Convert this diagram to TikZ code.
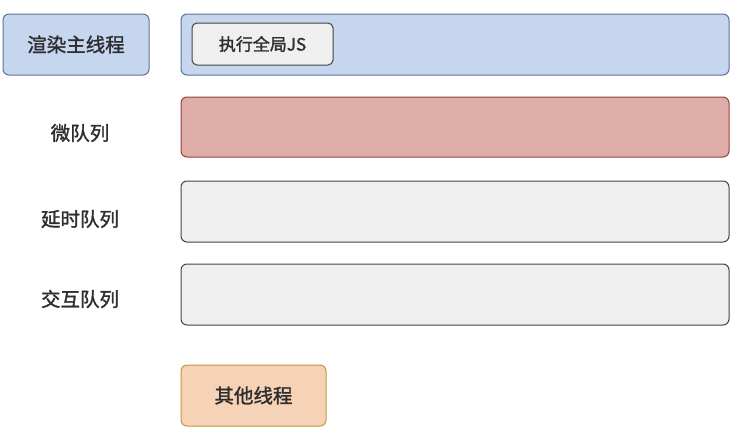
\documentclass[tikz,border=0pt]{standalone}
\usepackage{fontspec}
\setmainfont{Noto Sans CJK SC}[FakeBold=1.5]
\begin{document}
\begin{tikzpicture}[x=1pt,y=-1pt,
  box/.style={draw,rounded corners=6pt,line width=1pt,inner sep=0pt},
  lbl/.style={font=\fontsize{19.5}{22}\selectfont,text=black!82},
]
\definecolor{bluefill}{HTML}{C6D6EE}
\definecolor{blueline}{HTML}{5A7399}
\definecolor{redfill}{HTML}{DEADA8}
\definecolor{redline}{HTML}{9A3F3F}
\definecolor{grayfill}{HTML}{EFEFEF}
\definecolor{grayline}{HTML}{444444}
\definecolor{orangefill}{HTML}{F6D2B6}
\definecolor{orangeline}{HTML}{C29A3A}
\useasboundingbox (0,0) rectangle (750,445);
\fill[white] (0,0) rectangle (750,445);
% main thread
\node[box,draw=blueline,fill=bluefill,minimum width=146pt,minimum height=61pt,lbl] (main) at (76,44.5) {渲染主线程};
\node[box,draw=blueline,fill=bluefill,minimum width=548pt,minimum height=61pt] (mainq) at (455,44.5) {};
\node[box,draw=grayline,fill=grayfill,minimum width=141pt,minimum height=42pt,rounded corners=5pt,font=\fontsize{17}{19}\selectfont,text=black!82] (js) at (262.5,44) {执行全局JS};
% micro queue
\node[lbl] (microl) at (80,133) {微队列};
\node[box,draw=redline,fill=redfill,minimum width=548pt,minimum height=60pt] (micro) at (455,127) {};
% delay queue
\node[lbl] (delayl) at (80,219) {延时队列};
\node[box,draw=grayline,fill=grayfill,minimum width=548pt,minimum height=61pt] (delay) at (455,211.5) {};
% interaction queue
\node[lbl] (interl) at (80,299) {交互队列};
\node[box,draw=grayline,fill=grayfill,minimum width=548pt,minimum height=61pt] (inter) at (455,294.5) {};
% other threads
\node[box,draw=orangeline,fill=orangefill,minimum width=145pt,minimum height=61pt,lbl] (other) at (253.5,395.5) {其他线程};
\end{tikzpicture}
\end{document}
